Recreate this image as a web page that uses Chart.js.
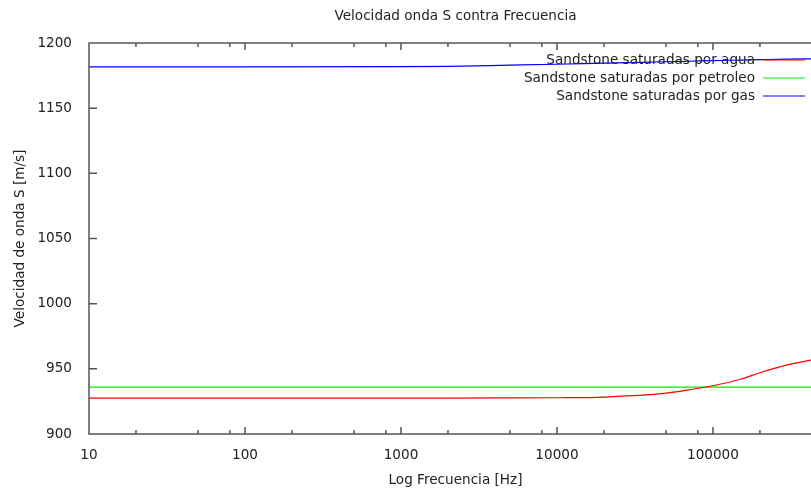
<!DOCTYPE html>
<html>
<head>
<meta charset="utf-8">
<script src="https://cdn.jsdelivr.net/npm/chart.js@4"></script>
<style>
html, body { margin: 0; padding: 0; overflow: hidden; background: #fff; }
</style>
</head>
<body>
<canvas id="chart" width="830" height="491"></canvas>
<script>
// values
var freq     = [10, 100, 1000, 2000, 5000, 10000, 20000, 50000, 70000, 100000, 150000, 200000, 300000, 500000]
var agua     = [927.6, 927.6, 927.6, 927.6, 927.7, 927.8, 928.3, 931.3, 933.8, 937.0, 942.0, 947.0, 953.0, 958.5]
var petroleo = [936, 936, 936, 936, 936, 936, 936, 936, 936, 936, 936, 936, 936, 936]
var gas      = [1181.7, 1181.7, 1181.8, 1182.1, 1183.0, 1183.7, 1184.5, 1185.6, 1186.0, 1186.5, 1186.9, 1187.2, 1187.6, 1187.9]

var labels = ["Sandstone saturadas por agua", "Sandstone saturadas por petroleo", "Sandstone saturadas por gas"]
var colors = ["#ff0000", "#00ee00", "#0000ff"]
var xTicks = [10, 100, 1000, 10000, 100000]
var xMinor = [1, 2, 5, 8]
var yTicks = [900, 950, 1000, 1050, 1100, 1150, 1200]

var font = { family: "'DejaVu Sans', sans-serif", size: 13.6 }
var txt = '#222'

function pts(ys) {
    return freq.map(function (f, i) { return { x: f, y: ys[i] } })
}

// gnuplot-like frame, inward ticks, title and legend
var gnuFrame = {
    id: 'gnuFrame',
    afterDatasetsDraw: function (chart) {
        var ctx = chart.ctx, a = chart.chartArea, x = chart.scales.x, y = chart.scales.y
        ctx.save()
        ctx.strokeStyle = '#555'
        ctx.lineWidth = 1.5
        ctx.beginPath()
        ctx.rect(a.left, a.top, a.right - a.left, a.bottom - a.top)
        xTicks.forEach(function (d) {
            xMinor.forEach(function (m) {
                var v = d * m
                if (v > x.max) return
                var px = x.getPixelForValue(v)
                var len = m == 1 ? 7 : 4
                ctx.moveTo(px, a.bottom); ctx.lineTo(px, a.bottom - len)
                ctx.moveTo(px, a.top); ctx.lineTo(px, a.top + len)
            })
        })
        yTicks.forEach(function (v) {
            var py = y.getPixelForValue(v)
            ctx.moveTo(a.left, py); ctx.lineTo(a.left + 8, py)
            ctx.moveTo(a.right, py); ctx.lineTo(a.right - 8, py)
        })
        ctx.stroke()
        ctx.restore()
    },
    afterDraw: function (chart) {
        var ctx = chart.ctx, a = chart.chartArea
        ctx.save()
        ctx.font = font.size + "px " + font.family
        ctx.fillStyle = txt
        ctx.textBaseline = 'middle'
        ctx.textAlign = 'center'
        ctx.fillText("Velocidad onda S contra Frecuencia", (a.left + a.right) / 2, 16.5)
        ctx.textAlign = 'right'
        chart.data.datasets.forEach(function (ds, i) {
            var ry = a.top + 17 + i * 18
            ctx.fillStyle = txt
            ctx.fillText(ds.label, a.right - 67, ry)
            ctx.strokeStyle = ds.borderColor
            ctx.lineWidth = 1.2
            ctx.beginPath()
            ctx.moveTo(a.right - 59, ry)
            ctx.lineTo(a.right - 17, ry)
            ctx.stroke()
        })
        ctx.restore()
    }
}

var ctx = document.getElementById("chart").getContext('2d')
var chart = new Chart(ctx, {
    type: 'line',
    data: {
        datasets: [
            { label: labels[0], data: pts(agua), borderColor: colors[0] },
            { label: labels[1], data: pts(petroleo), borderColor: colors[1] },
            { label: labels[2], data: pts(gas), borderColor: colors[2] }
        ]
    },
    options: {
        responsive: false,
        animation: false,
        layout: { padding: { top: 43, right: 8, left: 0, bottom: 0 } },
        elements: {
            point: { radius: 0 },
            line: { borderWidth: 1.2, cubicInterpolationMode: 'monotone', fill: false }
        },
        plugins: { legend: { display: false }, title: { display: false }, tooltip: { enabled: false } },
        scales: {
            x: {
                type: 'logarithmic',
                min: 10,
                max: 500000,
                afterBuildTicks: function (s) { s.ticks = xTicks.map(function (v) { return { value: v } }) },
                afterFit: function (s) { s.height = 57 },
                grid: { display: false },
                border: { display: false },
                ticks: { font: font, color: txt, padding: 5, maxRotation: 0, autoSkip: false,
                         callback: function (v) { return String(v) } },
                title: { display: true, text: 'Log Frecuencia [Hz]', font: font, color: txt, padding: { bottom: 2 } }
            },
            y: {
                min: 900,
                max: 1200,
                afterBuildTicks: function (s) { s.ticks = yTicks.map(function (v) { return { value: v } }) },
                afterFit: function (s) { s.width = 89 },
                grid: { display: false },
                border: { display: false },
                ticks: { font: font, color: txt, padding: 9, callback: function (v) { return String(v) } },
                title: { display: true, text: 'Velocidad de onda S [m/s]', font: font, color: txt, padding: { top: 12 } }
            }
        }
    },
    plugins: [gnuFrame]
})
</script>
</body>
</html>
